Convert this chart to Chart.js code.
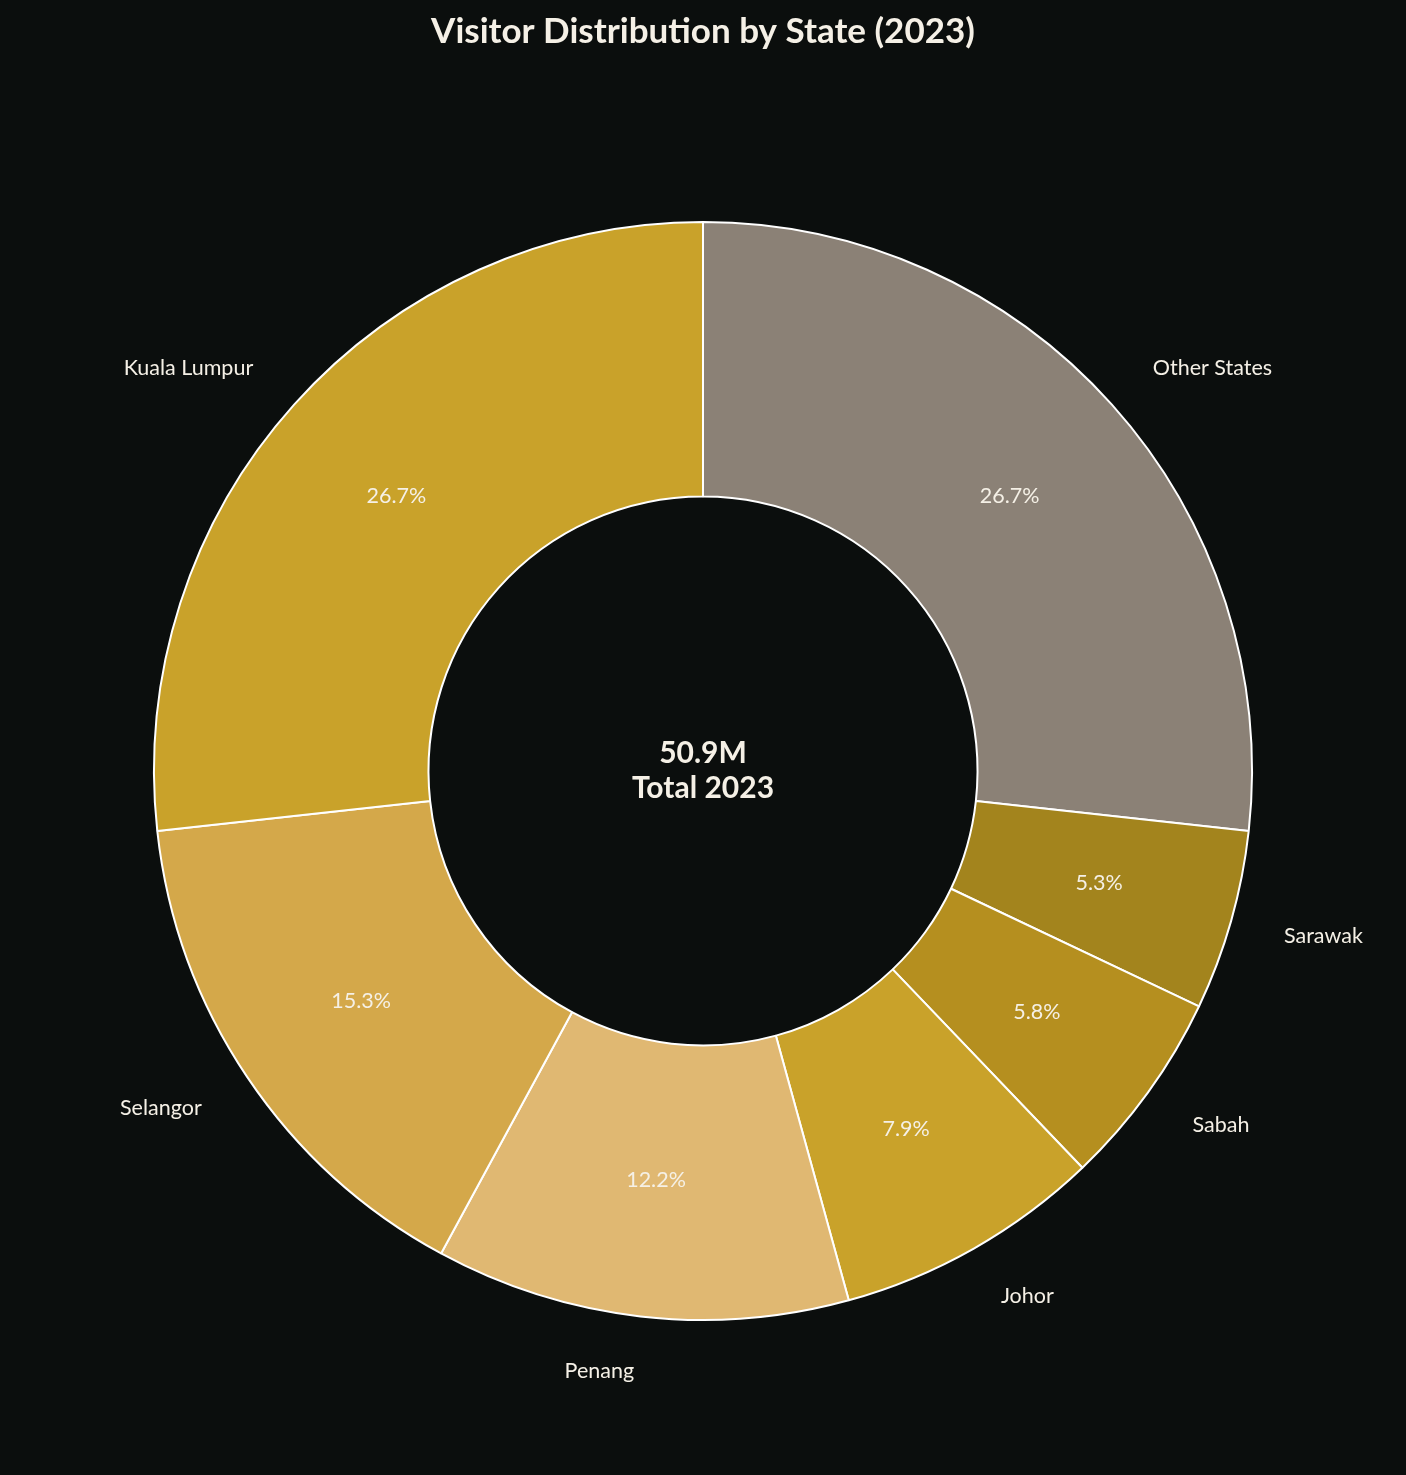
<!DOCTYPE html>
<html>
<head>
<meta charset="utf-8">
<script src="https://cdn.jsdelivr.net/npm/chart.js@4.4.0/dist/chart.umd.min.js"></script>
<style>
  html, body { margin: 0; padding: 0; background: #0b0e0d; }
  #wrap { width: 1406px; height: 1475px; position: relative; }
</style>
</head>
<body>
<div id="wrap"><canvas id="stateChart"></canvas></div>
<script>
// visitors in millions, listed counter-clockwise from the top as in the original
const states = ['Kuala Lumpur', 'Selangor', 'Penang', 'Johor', 'Sabah', 'Sarawak', 'Other States'];
const visitors = [13.6, 7.8, 6.2, 4.0, 2.95, 2.7, 13.6];
const sliceColors = ['#c9a22a', '#d4a84a', '#e0b872', '#c9a22a', '#b58f1f', '#a3841d', '#8b8176'];
const centerLines = ['50.9M', 'Total 2023'];
const chartTitle = 'Visitor Distribution by State (2023)';

const fontFamily = "Lato, 'Noto Sans', sans-serif";
const textColor = '#f5f0e6';

// Chart.js goes clockwise, so reverse to keep the counter-clockwise look
const labels = states.slice().reverse();
const dataValues = visitors.slice().reverse();
const colors = sliceColors.slice().reverse();
const total = dataValues.reduce((a, b) => a + b, 0);

const sliceText = {
    id: 'sliceText',
    afterDatasetsDraw(chart) {
        const c = chart.ctx;
        const meta = chart.getDatasetMeta(0);
        c.save();
        c.fillStyle = textColor;
        c.textBaseline = 'middle';
        meta.data.forEach((arc, i) => {
            const mid = (arc.startAngle + arc.endAngle) / 2;
            const r = arc.outerRadius;
            const cos = Math.cos(mid), sin = Math.sin(mid);

            c.font = '21.5px ' + fontFamily;
            c.textAlign = cos >= 0 ? 'left' : 'right';
            c.fillText(labels[i], arc.x + cos * r * 1.1, arc.y + sin * r * 1.1);

            c.textAlign = 'center';
            const pct = (dataValues[i] / total * 100).toFixed(1) + '%';
            c.fillText(pct, arc.x + cos * r * 0.75, arc.y + sin * r * 0.75);
        });

        const cx = meta.data[0].x, cy = meta.data[0].y;
        c.font = 'bold 30px ' + fontFamily;
        c.textAlign = 'center';
        c.fillText(centerLines[0], cx, cy - 18);
        c.fillText(centerLines[1], cx, cy + 17);

        c.font = 'bold 35px ' + fontFamily;
        c.fillText(chartTitle, chart.width / 2, 32);
        c.restore();
    }
};

const ctx = document.getElementById('stateChart');
new Chart(ctx, {
    type: 'doughnut',
    data: {
        labels: labels,
        datasets: [{
            data: dataValues,
            backgroundColor: colors,
            borderColor: '#ffffff',
            borderWidth: 2
        }]
    },
    options: {
        responsive: true,
        maintainAspectRatio: false,
        animation: false,
        cutout: '50%',
        rotation: 0,
        layout: { padding: { top: 221, bottom: 154, left: 153, right: 153 } },
        plugins: {
            legend: { display: false },
            tooltip: { enabled: false },
            title: { display: false }
        }
    },
    plugins: [sliceText]
});
</script>
</body>
</html>
